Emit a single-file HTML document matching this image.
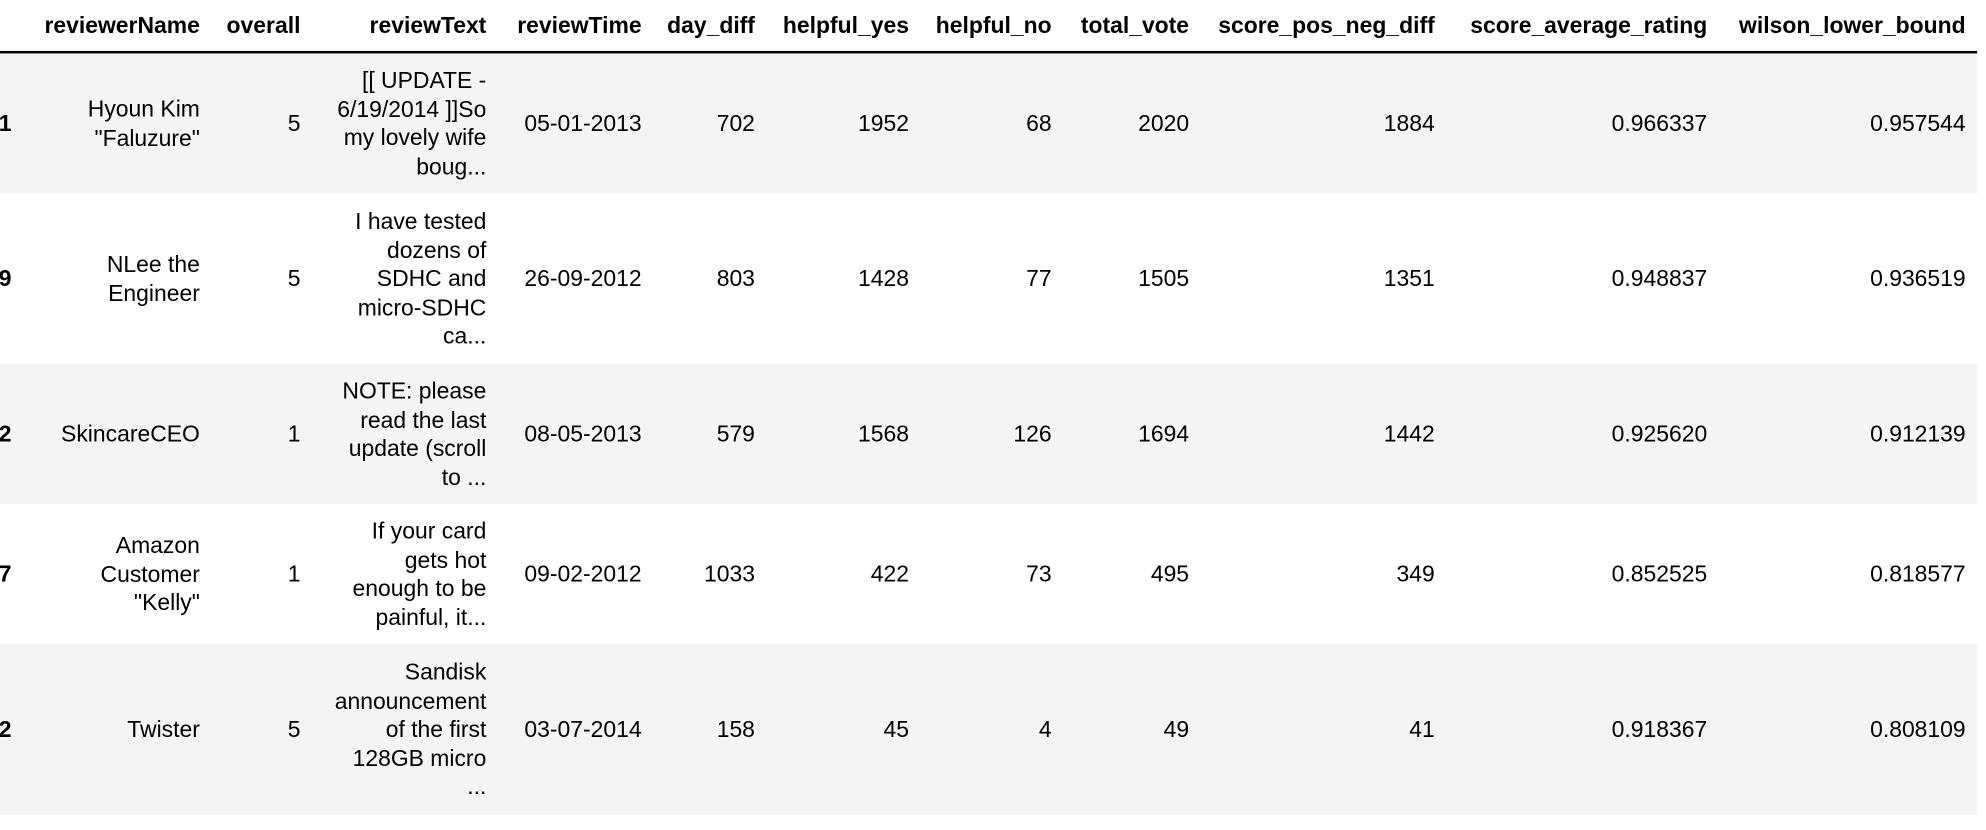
<!DOCTYPE html>
<html><head><meta charset="utf-8">
<style>
html,body{margin:0;padding:0;background:#fff;overflow:hidden}
body{width:1986px;height:830px}
#wrap{position:absolute;left:0;top:0;width:1560px;height:652px;transform:scale(1.2731);transform-origin:0 0;font-family:"Liberation Sans",Arial,sans-serif;font-size:18px;color:#000}
.row{position:absolute;left:0;width:1553px}
.c{position:absolute;text-align:right;line-height:22.5px;transform:translateY(-50%);white-space:nowrap}
.h{font-weight:bold}
</style></head><body>
<div id="wrap">
<div style="position:absolute;left:0;top:40px;width:1553px;height:2px;background:#000"></div>
</div>
<script>
const headers=["","reviewerName","overall","reviewText","reviewTime","day_diff","helpful_yes","helpful_no","total_vote","score_pos_neg_diff","score_average_rating","wilson_lower_bound"];
const rights=[9,157,236,382,504,593,714,826,934,1127,1341,1544];
const rowTops=[42,152,286,396,506];
const rowBottoms=[152,286,396,506,640];
const idx=["1","9","2","7","2"];
const names=["Hyoun Kim<br>\"Faluzure\"","NLee the<br>Engineer","SkincareCEO","Amazon<br>Customer<br>\"Kelly\"","Twister"];
const overall=[5,5,1,1,5];
const texts=["[[ UPDATE -<br>6/19/2014 ]]So<br>my lovely wife<br>boug...","I have tested<br>dozens of<br>SDHC and<br>micro-SDHC<br>ca...","NOTE: please<br>read the last<br>update (scroll<br>to ...","If your card<br>gets hot<br>enough to be<br>painful, it...","Sandisk<br>announcement<br>of the first<br>128GB micro<br>..."];
const times=["05-01-2013","26-09-2012","08-05-2013","09-02-2012","03-07-2014"];
const dayDiff=[702,803,579,1033,158];
const helpYes=[1952,1428,1568,422,45];
const helpNo=[68,77,126,73,4];
const totalVote=[2020,1505,1694,495,49];
const posNeg=[1884,1351,1442,349,41];
const avgRating=["0.966337","0.948837","0.925620","0.852525","0.918367"];
const wilson=["0.957544","0.936519","0.912139","0.818577","0.808109"];
const wrap=document.getElementById('wrap');
function cell(parent,html,right,cy,bold,name,pw){
  const d=document.createElement('div');
  d.className='c'+(bold?' h':'');
  d.style.right=(pw-right)+'px';
  d.style.top=cy+'px';
  d.innerHTML=html;
  
  
  parent.appendChild(d);
}
headers.forEach((h,i)=>{ if(h) cell(wrap,h,rights[i],20,true,'header-'+h.replace(/_/g,'-').toLowerCase(),1560); });
for(let r=0;r<5;r++){
  const row=document.createElement('div');
  row.className='row';
  row.style.top=rowTops[r]+'px';
  row.style.height=(rowBottoms[r]-rowTops[r])+'px';
  row.style.background=(r%2===0)?'#f4f4f4':'#fff';
  
  
  wrap.appendChild(row);
  const cy=(rowBottoms[r]-rowTops[r])/2;
  const vals=[idx[r],names[r],overall[r],texts[r],times[r],dayDiff[r],helpYes[r],helpNo[r],totalVote[r],posNeg[r],avgRating[r],wilson[r]];
  vals.forEach((v,i)=>cell(row,String(v),rights[i],cy,i===0,(i===0?'row-index':headers[i].replace(/_/g,'-').toLowerCase()+'-cell'),1553));
}
</script>
</body></html>
